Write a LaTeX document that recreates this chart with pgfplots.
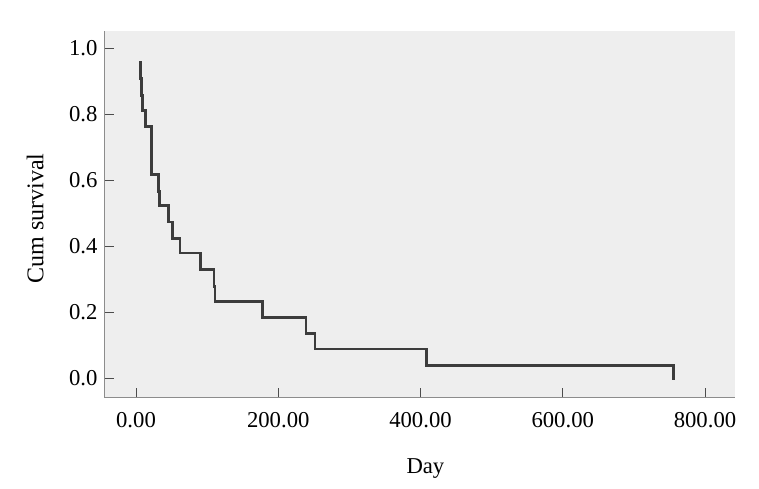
\documentclass[border=0pt]{standalone}
\usepackage{fontspec}
\setmainfont{Liberation Serif}
\usepackage{pgfplots}
\pgfplotsset{compat=1.18}
\definecolor{bgc}{HTML}{EEEEEE}
\definecolor{spine}{HTML}{8C8C8C}
\definecolor{curve}{HTML}{3C3C3C}
\begin{document}
\begin{tikzpicture}
\useasboundingbox (-104.5pt,-91.5pt) rectangle (654.5pt,397.5pt);
\begin{axis}[
  scale only axis,
  width=630.5pt, height=366.5pt,
  xmin=-44.3, xmax=842.2,
  ymin=-0.058, ymax=1.053,
  axis x line*=bottom, axis y line*=left,
  axis line style={draw=spine, line width=1.5pt, -},
  axis background/.style={fill=bgc},
  tick align=inside,
  major tick length=9pt,
  tick style={draw=black!70, line width=0.8pt},
  xtick={0,200,400,600,800},
  ytick={0,0.2,0.4,0.6,0.8,1.0},
  /pgf/number format/assume math mode=true,
  xticklabel style={/pgf/number format/fixed, /pgf/number format/fixed zerofill, /pgf/number format/precision=2, yshift=-11pt},
  yticklabel style={/pgf/number format/fixed, /pgf/number format/fixed zerofill, /pgf/number format/precision=1, xshift=-3.5pt},
  ticklabel style={font=\fontsize{22.7}{27}\selectfont},
  label style={font=\fontsize{22.7}{27}\selectfont},
  xlabel={Day},
  ylabel={Cum survival},
  xlabel style={at={(axis description cs:0.509,-0.2087)}, anchor=base},
  ylabel style={at={(axis description cs:-0.0971,0.488)}, anchor=base, rotate=0, font=\fontsize{24}{28}\selectfont},
  clip=false,
]
\addplot[const plot, draw=curve, line width=2.8pt, line join=miter] coordinates {
(4.7,0.958) (6.6,0.908) (8.0,0.857) (9.4,0.812) (13.1,0.764) (22.0,0.617)
(31.9,0.567) (32.8,0.524) (45.5,0.474) (51.6,0.425) (61.9,0.380) (90.9,0.329)
(109.7,0.279) (111.0,0.233) (178.0,0.185) (239.0,0.135) (251.7,0.089)
(408.7,0.039) (755.5,-0.005)
};
\end{axis}
\end{tikzpicture}
\end{document}
